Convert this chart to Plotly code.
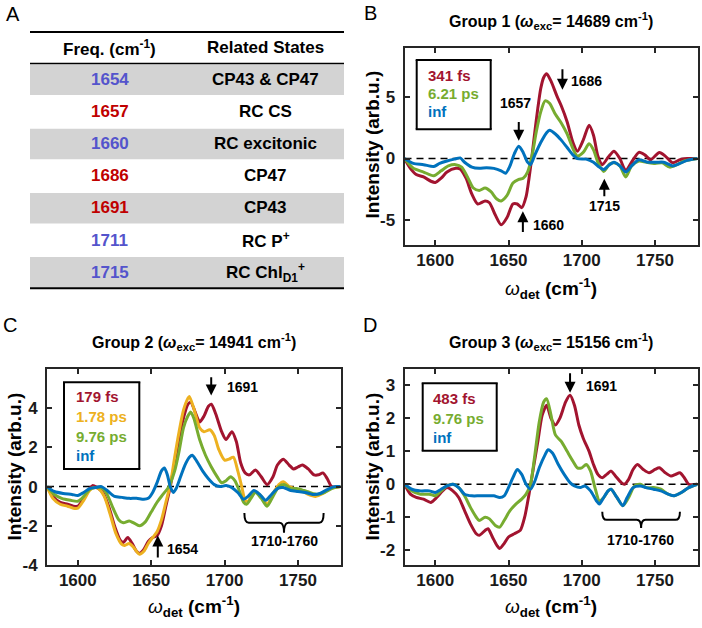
import plotly.graph_objects as go

W, H = 702, 628
FONT = "Liberation Sans"
RED, GREEN, BLUE, ORANGE = "#A2142F", "#77AC30", "#0072BD", "#EDB120"
TBL_BLUE, TBL_RED = "#5454cc", "#c00000"
AXC = "#262626"

# ---------------- data ----------------
table_header = ["Freq. (cm<sup>-1</sup>)", "Related States"]
table_freqs = ["1654", "1657", "1660", "1686", "1691", "1711", "1715"]
table_freq_kind = ["b", "r", "b", "r", "r", "b", "b"]
table_states = ["CP43 &amp; CP47", "RC CS", "RC excitonic", "CP47", "CP43",
                "RC P<sup>+</sup>", "RC Chl<sub>D1</sub><sup>+</sup>"]

x_ticks = [1600, 1650, 1700, 1750]
x_ticktext = ["1600", "1650", "1700", "1750"]
b_yticks = [-5, 0, 5]
b_yticktext = ["-5", "0", "5"]
c_yticks = [-4, -2, 0, 2, 4]
c_yticktext = ["-4", "-2", "0", "2", "4"]
d_yticks = [-2, -1, 0, 1, 2, 3]
d_yticktext = ["-2", "-1", "0", "1", "2", "3"]

# Panel B (Group 1)
b_341fs = [(1579, 0), (1583, -0.8), (1587, -1.3), (1592, -1.5), (1597, -1.85), (1600, -1.95),
           (1604, -1.6), (1608, -1.1), (1614, -0.8), (1617, -0.85), (1621, -1.6), (1625, -2.9),
           (1629, -3.7), (1634, -3.45), (1637, -3.6), (1641, -4.6), (1645, -5.4), (1649, -4.8),
           (1653, -3.7), (1656, -3.7), (1659, -4.0), (1662, -3.1), (1664, -1.6), (1666, 0.2),
           (1668, 2.2), (1670, 4.1), (1672, 5.7), (1674, 6.6), (1676, 6.9), (1679, 6.3),
           (1683, 5.1), (1686, 4.3), (1690, 3.0), (1694, 1.3), (1697, 0.6), (1701, 1.5),
           (1705, 2.7), (1708, 1.9), (1711, 0.2), (1714, -0.5), (1718, 0.1), (1722, 0.6),
           (1726, 0.0), (1730, -1.0), (1734, -0.3), (1739, 0.5), (1743, 0.3), (1747, -0.1),
           (1753, 0.5), (1757, 0.2), (1762, -0.35), (1767, -0.1), (1772, 0.0), (1779, 0)]
b_621ps = [(1579, 0), (1585, -0.8), (1592, -1.1), (1599, -1.4), (1604, -1.0), (1609, -0.6),
           (1614, -0.5), (1618, -0.7), (1622, -1.5), (1626, -2.4), (1630, -2.6), (1634, -2.4),
           (1638, -2.7), (1642, -3.3), (1645, -3.45), (1649, -3.0), (1653, -2.0), (1657, -1.7),
           (1660, -1.6), (1663, -1.1), (1666, 0.2), (1669, 2.2), (1672, 3.8), (1675, 4.7),
           (1678, 4.5), (1682, 3.6), (1686, 2.9), (1690, 2.0), (1694, 0.8), (1697, 0.2),
           (1701, 0.5), (1705, 1.2), (1708, 0.7), (1711, -0.3), (1715, -1.05), (1719, -0.45),
           (1722, -0.35), (1726, -0.6), (1730, -1.5), (1734, -0.6), (1739, -0.2), (1744, -0.3),
           (1750, -0.4), (1755, -0.35), (1760, -0.7), (1765, -0.5), (1770, -0.2), (1779, 0)]
b_inf = [(1579, 0), (1585, -0.4), (1592, -0.5), (1599, -0.65), (1603, -0.4), (1608, -0.2),
         (1613, -0.05), (1617, 0.05), (1620, -0.3), (1625, -0.7), (1630, -0.8), (1635, -0.75),
         (1640, -0.8), (1645, -1.0), (1648, -1.2), (1651, -0.6), (1654, 0.4), (1657, 1.0),
         (1660, 0.5), (1663, -0.3), (1665, -0.5), (1668, 0.3), (1672, 1.3), (1676, 2.1),
         (1678, 2.3), (1682, 2.0), (1686, 1.5), (1690, 0.9), (1694, 0.3), (1697, 0.0),
         (1703, -0.05), (1708, -0.3), (1712, -0.7), (1715, -0.9), (1718, -0.6), (1722, -0.3),
         (1726, -0.6), (1730, -1.1), (1734, -0.6), (1739, -0.1), (1745, -0.3), (1751, -0.3),
         (1756, -0.3), (1762, -0.6), (1767, -0.4), (1772, -0.15), (1779, 0)]

# Panel C (Group 2)
c_179fs = [(1579, 0), (1583, -0.5), (1588, -0.8), (1593, -0.9), (1597, -1.0), (1600, -1.0),
           (1604, -0.6), (1608, -0.1), (1610, 0.05), (1613, -0.05), (1617, -0.3), (1621, -1.0),
           (1625, -2.0), (1629, -2.75), (1631, -2.85), (1634, -2.6), (1637, -2.9), (1640, -3.3),
           (1642, -3.4), (1645, -3.2), (1648, -2.8), (1651, -2.6), (1654, -2.5), (1657, -2.0),
           (1660, -1.0), (1663, 0.0), (1666, 1.2), (1669, 2.5), (1672, 3.5), (1675, 4.2),
           (1677, 4.3), (1680, 3.8), (1683, 3.3), (1686, 3.6), (1689, 4.1), (1691, 4.2),
           (1694, 3.7), (1698, 2.8), (1701, 2.4), (1705, 2.8), (1708, 2.3), (1711, 1.2),
           (1714, 0.7), (1717, 0.6), (1721, 0.85), (1725, 0.5), (1729, 0.1), (1733, 0.5),
           (1736, 1.1), (1740, 1.4), (1744, 1.1), (1747, 0.9), (1750, 1.0), (1753, 1.1),
           (1757, 0.9), (1761, 0.6), (1764, 0.6), (1767, 0.7), (1770, 0.4), (1773, 0.0), (1779, 0)]
c_178ps = [(1579, 0), (1583, -0.6), (1588, -0.9), (1593, -1.0), (1597, -1.1), (1600, -1.1),
           (1604, -0.7), (1608, -0.2), (1611, -0.05), (1614, -0.1), (1618, -0.5), (1622, -1.4),
           (1626, -2.4), (1630, -2.95), (1632, -3.0), (1635, -2.9), (1638, -3.1), (1642, -3.45),
           (1645, -3.3), (1648, -2.9), (1651, -2.6), (1654, -2.3), (1657, -1.7), (1660, -0.8),
           (1663, 0.1), (1666, 1.5), (1669, 2.8), (1672, 3.9), (1675, 4.5), (1676, 4.6),
           (1679, 4.0), (1683, 3.0), (1686, 2.8), (1690, 2.9), (1693, 2.6), (1696, 1.9),
           (1700, 1.35), (1703, 1.4), (1706, 1.5), (1709, 0.8), (1712, -0.1), (1714, -0.7),
           (1716, -0.75), (1719, -0.35), (1721, -0.25), (1725, -0.5), (1729, -0.9), (1733, -0.35),
           (1737, 0.1), (1740, 0.25), (1744, 0.0), (1748, -0.1), (1752, -0.2), (1757, -0.4),
           (1762, -0.5), (1767, -0.35), (1772, -0.1), (1779, 0)]
c_976ps = [(1579, 0), (1584, -0.4), (1589, -0.6), (1595, -0.7), (1600, -0.75), (1604, -0.5),
           (1608, -0.15), (1612, -0.05), (1617, -0.1), (1620, -0.4), (1624, -1.1), (1628, -1.7),
           (1631, -1.85), (1635, -1.75), (1638, -1.85), (1642, -2.0), (1646, -1.8), (1650, -1.3),
           (1654, -0.8), (1658, -0.4), (1662, 0.0), (1666, 0.8), (1669, 1.8), (1672, 3.0),
           (1675, 3.6), (1677, 3.8), (1679, 3.5), (1683, 2.4), (1687, 1.6), (1691, 1.0),
           (1695, 0.5), (1698, 0.2), (1701, 0.3), (1704, 0.5), (1707, 0.3), (1710, -0.2),
           (1713, -0.8), (1715, -0.9), (1718, -0.6), (1721, -0.3), (1725, -0.6), (1729, -1.0),
           (1733, -0.5), (1737, 0.0), (1741, 0.1), (1745, -0.1), (1749, -0.1), (1754, -0.2),
           (1758, -0.3), (1763, -0.4), (1768, -0.3), (1773, -0.1), (1779, 0)]
c_inf = [(1579, 0), (1584, -0.25), (1590, -0.35), (1596, -0.4), (1600, -0.45), (1604, -0.3),
         (1608, -0.1), (1612, -0.05), (1616, 0.0), (1620, -0.2), (1625, -0.5), (1630, -0.55),
         (1635, -0.6), (1640, -0.6), (1645, -0.65), (1648, -0.6), (1651, -0.3), (1654, 0.2),
         (1657, 0.8), (1659, 0.95), (1661, 0.6), (1663, 0.0), (1665, -0.3), (1667, -0.1),
         (1670, 0.5), (1673, 1.1), (1676, 1.5), (1678, 1.6), (1681, 1.3), (1685, 0.8),
         (1689, 0.4), (1693, 0.1), (1697, 0.0), (1701, 0.05), (1705, -0.05), (1709, -0.3),
         (1713, -0.65), (1716, -0.5), (1720, -0.2), (1724, -0.4), (1728, -0.7), (1732, -0.4),
         (1736, -0.1), (1740, -0.05), (1745, -0.2), (1750, -0.25), (1755, -0.3), (1760, -0.4),
         (1765, -0.35), (1770, -0.15), (1775, 0), (1779, 0)]

# Panel D (Group 3)
d_483fs = [(1579, 0), (1583, -0.3), (1587, -0.4), (1592, -0.45), (1597, -0.55), (1601, -0.4),
           (1605, -0.2), (1608, -0.1), (1612, -0.2), (1616, -0.4), (1620, -0.8), (1624, -1.2),
           (1628, -1.5), (1630, -1.55), (1634, -1.4), (1636, -1.35), (1639, -1.6), (1642, -1.85),
           (1644, -1.95), (1647, -1.8), (1650, -1.6), (1654, -1.5), (1658, -1.4), (1661, -1.0),
           (1664, -0.3), (1667, 0.5), (1670, 1.3), (1673, 2.1), (1676, 2.4), (1679, 2.0),
           (1682, 1.8), (1685, 2.0), (1689, 2.5), (1692, 2.7), (1695, 2.4), (1698, 1.8),
           (1701, 1.4), (1705, 1.0), (1708, 0.6), (1711, 0.3), (1714, 0.2), (1717, 0.3),
           (1720, 0.4), (1723, 0.25), (1727, 0.05), (1729, 0.0), (1732, 0.15), (1735, 0.45),
           (1738, 0.6), (1742, 0.45), (1746, 0.35), (1750, 0.45), (1753, 0.5), (1757, 0.35),
           (1761, 0.25), (1764, 0.3), (1767, 0.35), (1770, 0.2), (1773, 0.0), (1779, 0)]
d_976ps = [(1579, 0), (1584, -0.2), (1590, -0.3), (1596, -0.3), (1600, -0.35), (1604, -0.2),
           (1608, -0.05), (1612, 0.0), (1616, -0.1), (1620, -0.35), (1624, -0.7), (1628, -1.0),
           (1630, -1.1), (1634, -1.0), (1637, -1.05), (1641, -1.25), (1644, -1.3), (1647, -1.1),
           (1651, -0.8), (1655, -0.6), (1659, -0.45), (1662, -0.3), (1665, 0.0), (1668, 0.9),
           (1671, 1.9), (1674, 2.5), (1676, 2.6), (1679, 2.1), (1682, 1.5), (1686, 1.3),
           (1690, 1.0), (1694, 0.7), (1697, 0.5), (1700, 0.5), (1703, 0.6), (1706, 0.4),
           (1709, -0.1), (1712, -0.5), (1715, -0.4), (1718, -0.2), (1720, -0.15), (1724, -0.4),
           (1728, -0.65), (1732, -0.4), (1736, -0.05), (1740, 0.0), (1744, -0.1), (1749, -0.1),
           (1754, -0.15), (1759, -0.3), (1763, -0.35), (1768, -0.25), (1773, -0.1), (1779, 0)]
d_inf = [(1579, 0), (1584, -0.15), (1590, -0.2), (1596, -0.2), (1600, -0.25), (1604, -0.15),
         (1608, -0.05), (1612, 0.0), (1616, -0.1), (1620, -0.3), (1625, -0.35), (1630, -0.35),
         (1635, -0.35), (1640, -0.35), (1644, -0.4), (1647, -0.35), (1650, -0.1), (1653, 0.2),
         (1656, 0.45), (1659, 0.3), (1662, 0.0), (1665, -0.15), (1668, 0.1), (1671, 0.5),
         (1675, 0.9), (1677, 1.05), (1680, 0.95), (1684, 0.6), (1688, 0.3), (1692, 0.05),
         (1695, -0.05), (1699, -0.1), (1702, -0.05), (1706, -0.2), (1710, -0.5), (1712, -0.6),
         (1715, -0.4), (1718, -0.2), (1720, -0.15), (1724, -0.4), (1728, -0.65), (1731, -0.4),
         (1735, -0.1), (1740, -0.05), (1744, -0.1), (1749, -0.15), (1754, -0.2), (1759, -0.3),
         (1763, -0.35), (1768, -0.25), (1773, -0.1), (1779, 0)]

b_labels = ["341 fs", "6.21 ps", "inf"]
c_labels = ["179 fs", "1.78 ps", "9.76 ps", "inf"]
d_labels = ["483 fs", "9.76 ps", "inf"]

# ---------------- helpers ----------------
def px(x):
    return x / W


def py(y):
    return 1 - y / H


annotations = []
shapes = []


def text(x, y, s, size=16, color="black", xref="paper", yref="paper",
         xanchor="center", yanchor="middle", weight="bold", angle=0):
    annotations.append(dict(x=x, y=y, xref=xref, yref=yref, text=s, showarrow=False,
                            xanchor=xanchor, yanchor=yanchor, textangle=angle,
                            font=dict(family=FONT, size=size, color=color, weight=weight)))


def arrow(x, y_tip, y_tail, xr, yr):
    annotations.append(dict(x=x, y=y_tip, ax=x, ay=y_tail, xref=xr, yref=yr, axref=xr, ayref=yr,
                            showarrow=True, arrowhead=2, arrowsize=1.1, arrowwidth=2,
                            arrowcolor="black", standoff=0, text=""))


def brace(x0, x1, ytop, ymid, ybot, xr, yr):
    xc = (x0 + x1) / 2
    d = 3
    path = (f"M {x0},{ytop} Q {x0},{ymid} {x0 + d},{ymid} L {xc - d},{ymid} "
            f"Q {xc},{ymid} {xc},{ybot} Q {xc},{ymid} {xc + d},{ymid} "
            f"L {x1 - d},{ymid} Q {x1},{ymid} {x1},{ytop}")
    shapes.append(dict(type="path", path=path, xref=xr, yref=yr,
                       line=dict(color="black", width=2)))


def hline_px(xa, xb, y, lw):
    shapes.append(dict(type="line", xref="paper", yref="paper", x0=px(xa), x1=px(xb),
                       y0=py(y), y1=py(y), line=dict(color="black", width=lw)))


def vline_px(x, ya, yb, lw):
    shapes.append(dict(type="line", xref="paper", yref="paper", x0=px(x), x1=px(x),
                       y0=py(ya), y1=py(yb), line=dict(color="black", width=lw)))


def legend_box(x0, x1, y0, y1, labels, colors, ys, xt):
    hline_px(x0 - 1, x1 + 1, y0, 2)
    hline_px(x0 - 1, x1 + 1, y1, 2)
    vline_px(x0, y0, y1, 2)
    vline_px(x1, y0, y1, 2)
    for lab, col, yy in zip(labels, colors, ys):
        text(px(xt), py(yy), lab, size=15, color=col, xanchor="left")


# ---------------- figure ----------------
fig = go.Figure()
XR = [1579, 1779]


def add_series(series, color, xa, ya):
    xs = [p[0] for p in series]
    ys = [p[1] for p in series]
    fig.add_trace(go.Scatter(x=xs, y=ys, mode="lines", xaxis=xa, yaxis=ya,
                             line=dict(color=color, width=3, shape="spline", smoothing=0.7),
                             showlegend=False, hoverinfo="skip"))


add_series(b_341fs, RED, "x", "y")
add_series(b_621ps, GREEN, "x", "y")
add_series(b_inf, BLUE, "x", "y")
add_series(c_179fs, RED, "x2", "y2")
add_series(c_178ps, ORANGE, "x2", "y2")
add_series(c_976ps, GREEN, "x2", "y2")
add_series(c_inf, BLUE, "x2", "y2")
add_series(d_483fs, RED, "x3", "y3")
add_series(d_976ps, GREEN, "x3", "y3")
add_series(d_inf, BLUE, "x3", "y3")

TICKFONT = dict(family=FONT, size=17, color="#1a1a1a", weight="bold")


def xaxis(dom, anchor):
    return dict(domain=dom, range=XR, anchor=anchor, tickvals=x_ticks, ticktext=x_ticktext,
                ticks="inside", ticklen=5, tickwidth=1.5, tickcolor=AXC, showline=True,
                linewidth=2, linecolor=AXC, mirror="allticks", showgrid=False, zeroline=False,
                tickfont=TICKFONT, ticklabelstandoff=-1, fixedrange=True, automargin=False)


def yaxis(dom, rng, tv, tt, anchor):
    return dict(domain=dom, range=rng, anchor=anchor, tickvals=tv, ticktext=tt,
                ticks="inside", ticklen=5, tickwidth=1.5, tickcolor=AXC, showline=True,
                linewidth=2, linecolor=AXC, mirror="allticks", showgrid=False, zeroline=False,
                tickfont=TICKFONT, ticklabelstandoff=4, fixedrange=True, automargin=False)


xd_B = [px(404.5), px(697.5)]
xd_C = [px(47), px(340.5)]
xd_D = [px(404.5), px(697.5)]
yd_B = [py(244.5), py(48)]
yd_CD = [py(565), py(369)]

# zero dashed lines
for xr, yr in [("x", "y"), ("x2", "y2"), ("x3", "y3")]:
    shapes.append(dict(type="line", xref=f"{xr} domain", yref=yr, x0=0, x1=1, y0=0, y1=0,
                       line=dict(color="black", width=1.5, dash="7px,5px"), layer="below"))

# ---- table (panel A)
TX0, TX1 = 30, 344
T_TOP, T_HEAD = 32, 63.5
ROW_H = 32.1
n_rows = len(table_freqs)
t_bottom = T_HEAD + ROW_H * n_rows
for i in range(n_rows):
    if i % 2 == 0:
        shapes.append(dict(type="rect", xref="paper", yref="paper", x0=px(TX0), x1=px(TX1),
                           y0=py(T_HEAD + ROW_H * (i + 1) - 0.5), y1=py(T_HEAD + ROW_H * i + 1),
                           line=dict(width=0), fillcolor="#d3d3d3", layer="below"))
for yy, lw in [(T_TOP, 2), (T_HEAD, 1.5), (t_bottom, 2)]:
    hline_px(TX0, TX1, yy, lw)
COL1, COL2 = 109.5, 265.5
text(px(COL1), py(48), table_header[0], size=17)
text(px(COL2), py(48), table_header[1], size=17)
for i, (f, k, s) in enumerate(zip(table_freqs, table_freq_kind, table_states)):
    yy = T_HEAD + ROW_H * (i + 0.5)
    text(px(COL1), py(yy), f, size=17, color=TBL_BLUE if k == "b" else TBL_RED)
    text(px(COL2), py(yy), s, size=17)

# ---- panel letters
text(px(12.5), py(14), "A", size=20, weight="normal")
text(px(370), py(13), "B", size=20, weight="normal")
text(px(10), py(325), "C", size=20, weight="normal")
text(px(370), py(325), "D", size=20, weight="normal")

# ---- titles
text((xd_B[0] + xd_B[1]) / 2, py(21), "Group 1 (<i>ω</i><sub>exc</sub>= 14689 cm<sup>-1</sup>)", size=16)
text((xd_C[0] + xd_C[1]) / 2, py(342), "Group 2 (<i>ω</i><sub>exc</sub>= 14941 cm<sup>-1</sup>)", size=16)
text((xd_D[0] + xd_D[1]) / 2, py(342), "Group 3 (<i>ω</i><sub>exc</sub>= 15156 cm<sup>-1</sup>)", size=16)

# ---- axis titles
XT = "<span style='font-weight:normal'><i>ω</i></span><sub>det</sub> (cm<sup>-1</sup>)"
YT = "Intensity (arb.u.)"
text((xd_B[0] + xd_B[1]) / 2, py(288), XT, size=19)
text((xd_C[0] + xd_C[1]) / 2, py(606), XT, size=19)
text((xd_D[0] + xd_D[1]) / 2, py(606), XT, size=19)
text(px(371.5), py(145), YT, size=19, angle=-90)
text(px(13.5), py(467), YT, size=19, angle=-90)
text(px(371.5), py(467), YT, size=19, angle=-90)

# ---- legends
legend_box(416.7, 490.7, 60, 129.3, b_labels, [RED, GREEN, BLUE], [75, 93.5, 112], 425.5)
legend_box(64, 139.3, 382.3, 469, c_labels, [RED, ORANGE, GREEN, BLUE],
           [396.7, 416.5, 436, 456], 74)
legend_box(422.7, 496.7, 383.3, 450.7, d_labels, [RED, GREEN, BLUE], [398.3, 418, 437.3], 431)

# ---- arrows and peak labels
LBL = 14
arrow(1657, 1.45, 3.1, "x", "y")
text(1654.6, 4.5, "1657", xref="x", yref="y", size=LBL)
arrow(1686.8, 5.6, 7.4, "x", "y")
text(1703.5, 6.3, "1686", xref="x", yref="y", size=LBL)
arrow(1659.8, -4.3, -6.1, "x", "y")
text(1677.4, -5.4, "1660", xref="x", yref="y", size=LBL)
arrow(1715.4, -1.65, -3.2, "x", "y")
text(1715.4, -3.9, "1715", xref="x", yref="y", size=LBL)

arrow(1690.9, 4.65, 5.65, "x2", "y2")
text(1712.5, 5.1, "1691", xref="x2", yref="y2", size=LBL)
arrow(1654.5, -2.5, -3.7, "x2", "y2")
text(1671.6, -3.2, "1654", xref="x2", yref="y2", size=LBL)
brace(1713.5, 1767.5, -1.35, -1.85, -2.35, "x2", "y2")
text(1741, -2.8, "1710-1760", xref="x2", yref="y2", size=LBL)

arrow(1692, 2.78, 3.42, "x3", "y3")
text(1713.8, 2.98, "1691", xref="x3", yref="y3", size=LBL)
brace(1714, 1767, -0.83, -1.08, -1.33, "x3", "y3")
text(1740, -1.68, "1710-1760", xref="x3", yref="y3", size=LBL)

fig.update_layout(
    template="none",
    width=W, height=H, margin=dict(l=0, r=0, t=0, b=0, pad=0),
    paper_bgcolor="white", plot_bgcolor="white", showlegend=False,
    font=dict(family=FONT),
    xaxis=xaxis(xd_B, "y"), yaxis=yaxis(yd_B, [-7, 9], b_yticks, b_yticktext, "x"),
    xaxis2=xaxis(xd_C, "y2"), yaxis2=yaxis(yd_CD, [-4, 6], c_yticks, c_yticktext, "x2"),
    xaxis3=xaxis(xd_D, "y3"), yaxis3=yaxis(yd_CD, [-2.45, 3.5], d_yticks, d_yticktext, "x3"),
    annotations=annotations, shapes=shapes,
)

fig.write_html("out.html", config={"displayModeBar": False},
               post_script="document.body.style.margin='0px';document.body.style.overflow='hidden';")
